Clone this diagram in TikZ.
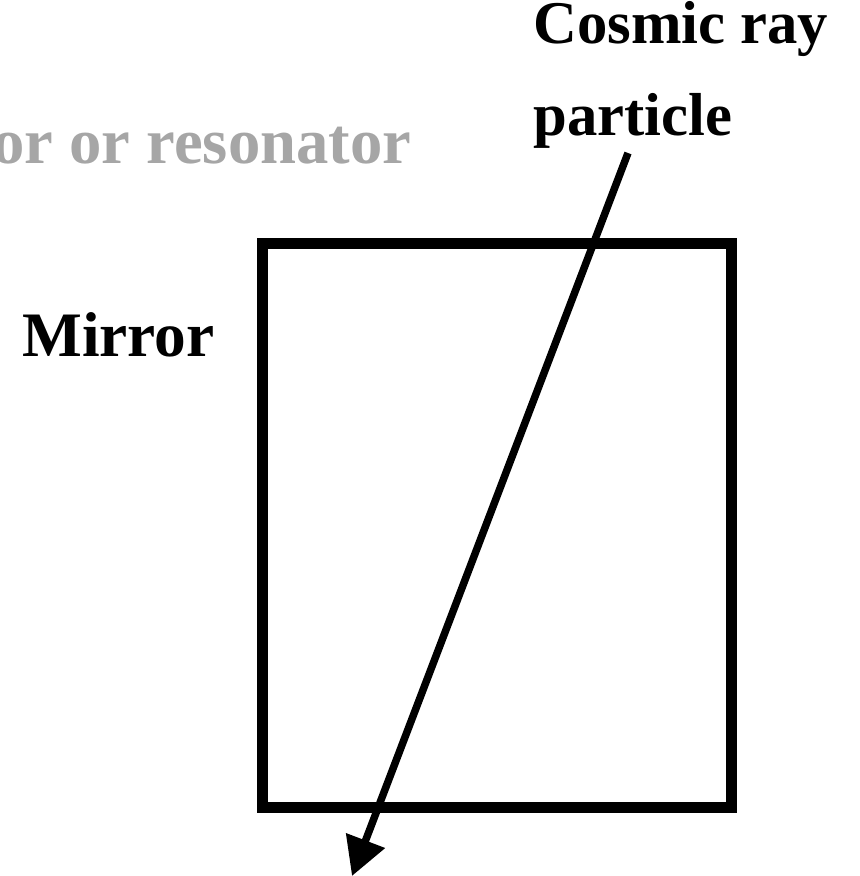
\documentclass[tikz,border=0pt]{standalone}
\usepackage{fontspec}
\setmainfont{Liberation Serif}
\usetikzlibrary{arrows.meta, positioning}
\definecolor{labelgray}{RGB}{166,166,166}
\tikzset{
    label/.style={inner sep=0pt, font=\fontsize{47.5pt}{54pt}\selectfont\bfseries, align=left},
    cavity/.style={rectangle, draw=black, line width=8.25pt, inner sep=0pt, outer sep=0pt,
        minimum width=351.75pt, minimum height=423pt},
    ray/.style={-{Triangle[length=28.5pt, width=30pt]}, line width=5.6pt}
}

\begin{document}
\begin{tikzpicture}[x=0.75pt, y=-0.75pt]
    \useasboundingbox (0,0) rectangle (860,876);

    \node[cavity] (mirror) at (496.5,525) {};

    \node[label, anchor=base west, font=\fontsize{45.5pt}{69pt}\selectfont\bfseries] (cosmic) at (533,135) {Cosmic ray\\particle};
    \node[label, anchor=base west, text=labelgray, font=\fontsize{48.5pt}{54pt}\selectfont\bfseries] (resonator) at (-8,163) {or or resonator};
    \node[label, anchor=base west] (mirrorlabel) at (22,356) {Mirror};

    \coordinate (raystart) at (628,153);
    \coordinate (rayend) at (352,876);
    \draw[ray] (raystart) -- (rayend);

\end{tikzpicture}
\end{document}
